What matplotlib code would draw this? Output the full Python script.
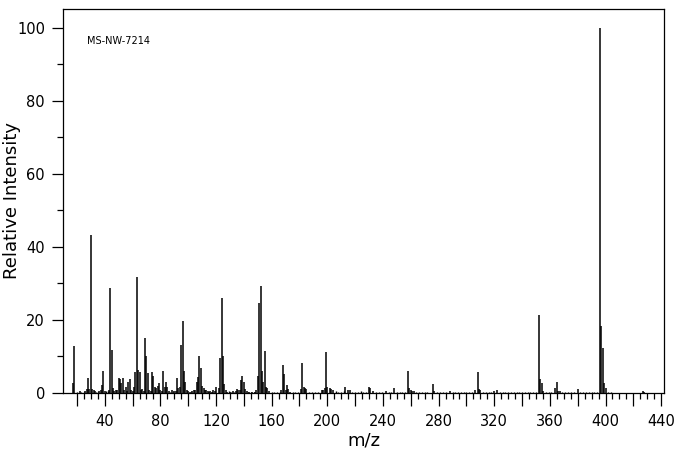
import matplotlib
matplotlib.use("Agg")
import matplotlib.pyplot as plt
from matplotlib.ticker import FixedLocator, FuncFormatter, MultipleLocator

# Main peaks (m/z, relative intensity)
peak_mz = [17, 18, 22, 26, 27, 28, 29, 30, 31, 32, 33, 36, 37, 38, 39, 40, 43,
           44, 45, 46, 47, 48, 49, 50, 51, 52, 53, 54, 55, 56, 57, 58, 59, 60,
           61, 62, 63, 64, 65, 66, 67, 68, 69, 70, 71, 72, 73, 74, 75, 76, 77,
           78, 79, 80, 81, 82, 83, 84, 85, 86, 88, 90, 91, 92, 93, 94, 95, 96,
           97, 98, 99, 100, 101, 103, 104, 105, 106, 107, 108, 109, 110, 111,
           112, 113, 114, 115, 116, 117, 118, 119, 120, 122, 123, 124, 125,
           126, 127, 128, 130, 132, 134, 135, 136, 137, 138, 139, 140, 141,
           142, 144, 146, 148, 149, 150, 151, 152, 153, 154, 155, 156, 157,
           158, 167, 168, 169, 170, 171, 172, 173, 181, 182, 183, 184, 185,
           196, 197, 198, 199, 200, 202, 203, 204, 213, 215, 216, 230, 231,
           233, 242, 248, 258, 259, 260, 261, 262, 276, 277, 288, 306, 308,
           309, 310, 320, 322, 352, 353, 354, 355, 364, 365, 366, 367, 380,
           396, 397, 398, 399, 400, 427, 428]
peak_int = [2.6, 12.9, 0.6, 0.5, 1.0, 4.0, 1.0, 43.3, 1.2, 0.8, 0.6, 0.5, 0.9,
            2.2, 6.0, 0.5, 0.8, 28.9, 11.8, 1.4, 0.6, 0.8, 0.7, 4.0, 3.8, 2.6,
            4.2, 0.8, 1.7, 0.6, 3.1, 3.8, 0.8, 0.6, 1.7, 5.8, 31.9, 6.3, 5.8,
            0.8, 1.2, 0.5, 15.2, 10.0, 5.6, 0.8, 0.5, 5.8, 4.7, 1.7, 1.5, 2.0,
            2.8, 0.8, 0.6, 6.1, 1.7, 3.1, 1.7, 0.6, 0.8, 0.6, 0.5, 4.2, 1.3,
            1.7, 13.2, 19.7, 6.1, 3.1, 0.8, 0.5, 0.4, 0.6, 0.8, 0.9, 3.0, 4.3,
            10.1, 6.8, 1.9, 1.5, 0.8, 0.7, 0.6, 0.4, 0.5, 0.4, 0.8, 0.5, 1.7,
            1.5, 9.5, 25.9, 10.1, 2.5, 0.9, 0.4, 0.4, 0.5, 0.5, 1.1, 0.8, 0.8,
            3.6, 4.7, 3.1, 1.0, 0.5, 0.4, 0.4, 0.4, 0.8, 4.7, 24.7, 29.3, 6.1,
            3.1, 11.5, 1.6, 1.3, 0.6, 0.8, 7.7, 5.1, 0.9, 2.2, 1.0, 0.4, 1.0,
            8.2, 1.6, 1.5, 1.0, 0.8, 0.8, 1.5, 11.1, 1.6, 1.3, 1.1, 0.8, 1.6,
            0.8, 0.8, 1.6, 1.3, 0.5, 0.5, 1.4, 6.0, 1.3, 0.8, 0.6, 0.5, 2.4,
            0.5, 0.5, 0.8, 5.8, 1.0, 0.8, 0.5, 0.8, 21.4, 3.8, 2.7, 0.6, 1.3,
            3.0, 0.6, 0.6, 1.1, 100.0, 18.4, 12.4, 2.8, 1.3, 0.5, 0.4]

# Baseline "grass" between the main peaks
grass_mz = [20, 23, 25, 34, 35, 41, 42, 87, 89, 102, 129, 131, 133, 143, 145,
            147, 160, 162, 164, 166, 175, 177, 179, 187, 189, 191, 193, 206,
            208, 210, 212, 218, 220, 222, 224, 226, 228, 235, 237, 239, 244,
            246, 250, 252, 254, 256, 264, 266, 268, 270, 272, 279, 281, 283,
            285, 290, 292, 294, 296, 298, 300, 302, 304, 312, 314, 316, 318,
            324, 326, 328, 330, 332, 334, 336, 338, 340, 342, 344, 346, 348,
            350, 357, 359, 361, 369, 371, 373, 375, 377, 382, 384, 386, 388,
            390, 392, 394, 402, 404]
grass_int = [0.3, 0.4, 0.3, 0.4, 0.3, 0.5, 0.6, 0.4, 0.4, 0.4, 0.5, 0.4, 0.3,
             0.4, 0.3, 0.3, 0.3, 0.4, 0.3, 0.4, 0.3, 0.4, 0.3, 0.4, 0.3, 0.3,
             0.4, 0.5, 0.3, 0.4, 0.5, 0.3, 0.4, 0.3, 0.5, 0.3, 0.4, 0.4, 0.3,
             0.4, 0.3, 0.4, 0.3, 0.3, 0.4, 0.3, 0.4, 0.3, 0.3, 0.4, 0.3, 0.4,
             0.3, 0.3, 0.4, 0.3, 0.4, 0.3, 0.3, 0.4, 0.3, 0.4, 0.3, 0.4, 0.3,
             0.4, 0.3, 0.3, 0.4, 0.3, 0.3, 0.4, 0.3, 0.4, 0.3, 0.4, 0.3, 0.3,
             0.4, 0.3, 0.4, 0.3, 0.4, 0.3, 0.3, 0.4, 0.3, 0.4, 0.3, 0.4, 0.3,
             0.4, 0.3, 0.4, 0.3, 0.3, 0.3, 0.4]

sample_id = "MS-NW-7214"

fig = plt.figure(figsize=(6.76, 4.55), dpi=100)
ax = fig.add_axes([0.0932, 0.1363, 0.889, 0.8439])

# Spectrum sticks
ax.vlines(grass_mz, 0, grass_int, color="black", linewidth=1.0)
ax.vlines(peak_mz, 0, peak_int, color="black", linewidth=1.1)

ax.set_xlim(10, 442)
ax.set_ylim(0, 105.2)

# Axis ticks: long every 20, labels every 40, short every 5
ax.xaxis.set_major_locator(FixedLocator(range(20, 441, 20)))
ax.xaxis.set_minor_locator(FixedLocator(range(20, 441, 5)))
ax.xaxis.set_major_formatter(
    FuncFormatter(lambda v, p: f"{int(v)}" if int(v) % 40 == 0 else ""))
ax.yaxis.set_major_locator(MultipleLocator(20))
ax.yaxis.set_minor_locator(MultipleLocator(10))

ax.tick_params(axis="both", which="major", direction="out", length=8,
               width=0.9, labelsize=10.5, colors="black")
ax.tick_params(axis="both", which="minor", direction="out", length=4,
               width=0.9)
ax.tick_params(axis="x", which="major", length=9, pad=6)
ax.tick_params(axis="y", which="major", pad=5)

for spine in ax.spines.values():
    spine.set_linewidth(0.9)
    spine.set_color("black")

ax.set_xlabel("m/z", fontsize=13, labelpad=2)
ax.set_ylabel("Relative Intensity", fontsize=13, va="center")
ax.yaxis.set_label_coords(-0.085, 0.5)

ax.text(0.04, 0.917, sample_id, transform=ax.transAxes, fontsize=7,
        va="center", ha="left")

fig.savefig("out.png", dpi=100)
